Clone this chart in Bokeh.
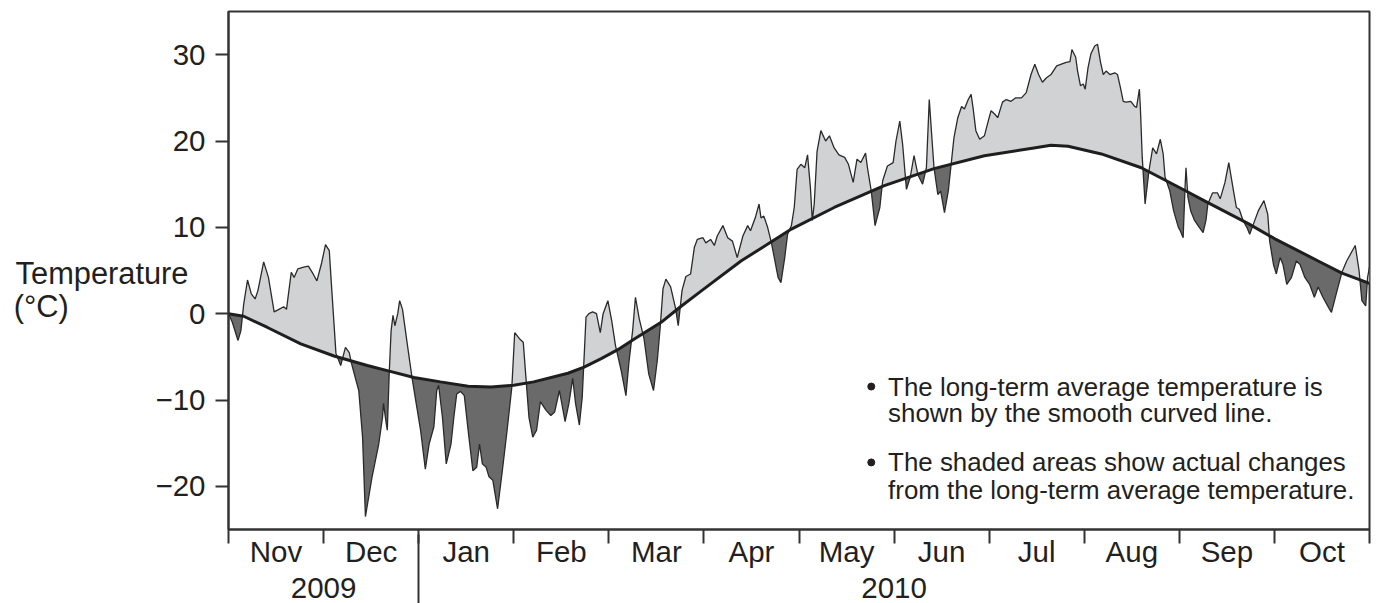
import numpy as np
from bokeh.plotting import figure
from bokeh.models import FixedTicker, LinearAxis, Range1d
from bokeh.core.properties import value
from bokeh.embed import file_html
from bokeh.resources import INLINE

# ---------------- data ----------------
month_names = ["Nov", "Dec", "Jan", "Feb", "Mar", "Apr", "May", "Jun", "Jul", "Aug", "Sep", "Oct"]
year_names = ["2009", "2010"]
y_ticks = [-20, -10, 0, 10, 20, 30]
y_tick_labels = ["\u221220", "\u221210", "0", "10", "20", "30"]
y_title = ["Temperature", "(\u00b0C)"]

# position in months since 1 Nov 2009 (one unit = one month)
month_pos = [
    0.00, 0.04, 0.10, 0.13, 0.16, 0.20, 0.24, 0.28, 0.31, 0.37, 0.42, 0.48, 0.53, 0.58, 0.61, 0.66,
    0.69, 0.73, 0.79, 0.84, 0.89, 0.93, 0.98, 1.02, 1.06, 1.08, 1.13, 1.18, 1.23, 1.27, 1.29, 1.34,
    1.37, 1.41, 1.44, 1.51, 1.58, 1.62, 1.63, 1.66, 1.67, 1.69, 1.71, 1.73, 1.75, 1.78, 1.80, 1.83,
    1.88, 1.93, 1.98, 2.02, 2.07, 2.11, 2.16, 2.19, 2.21, 2.25, 2.29, 2.34, 2.37, 2.40, 2.44, 2.48,
    2.52, 2.57, 2.61, 2.64, 2.67, 2.71, 2.74, 2.78, 2.83, 2.88, 2.93, 2.98, 3.01, 3.06, 3.10, 3.13,
    3.16, 3.20, 3.24, 3.28, 3.34, 3.39, 3.43, 3.48, 3.54, 3.58, 3.62, 3.65, 3.69, 3.72, 3.76, 3.79,
    3.83, 3.87, 3.91, 3.94, 3.99, 4.03, 4.07, 4.13, 4.18, 4.21, 4.25, 4.28, 4.32, 4.37, 4.42, 4.47,
    4.51, 4.54, 4.57, 4.60, 4.65, 4.70, 4.73, 4.77, 4.81, 4.86, 4.90, 4.93, 4.99, 5.02, 5.07, 5.11,
    5.14, 5.20, 5.25, 5.30, 5.35, 5.41, 5.46, 5.49, 5.54, 5.58, 5.60, 5.63, 5.67, 5.71, 5.74, 5.78,
    5.81, 5.85, 5.88, 5.92, 5.95, 5.98, 6.02, 6.06, 6.09, 6.12, 6.14, 6.16, 6.19, 6.23, 6.28, 6.32,
    6.37, 6.42, 6.48, 6.52, 6.57, 6.61, 6.65, 6.70, 6.72, 6.76, 6.80, 6.85, 6.88, 6.93, 6.99, 7.02,
    7.06, 7.09, 7.13, 7.17, 7.21, 7.25, 7.30, 7.34, 7.37, 7.40, 7.42, 7.46, 7.49, 7.53, 7.57, 7.60,
    7.63, 7.67, 7.71, 7.74, 7.78, 7.81, 7.83, 7.86, 7.90, 7.95, 7.99, 8.02, 8.06, 8.09, 8.14, 8.18,
    8.23, 8.28, 8.34, 8.39, 8.44, 8.48, 8.52, 8.56, 8.60, 8.65, 8.71, 8.76, 8.81, 8.85, 8.87, 8.91,
    8.93, 8.96, 8.99, 9.01, 9.04, 9.07, 9.11, 9.14, 9.17, 9.20, 9.23, 9.27, 9.32, 9.35, 9.38, 9.41,
    9.44, 9.49, 9.53, 9.55, 9.58, 9.59, 9.61, 9.64, 9.68, 9.72, 9.76, 9.80, 9.83, 9.85, 9.90, 9.94,
    9.99, 10.01, 10.04, 10.06, 10.07, 10.09, 10.12, 10.16, 10.21, 10.25, 10.28, 10.30, 10.35, 10.40, 10.43, 10.48,
    10.52, 10.57, 10.60, 10.63, 10.67, 10.71, 10.74, 10.78, 10.83, 10.89, 10.93, 10.95, 10.99, 11.02, 11.06, 11.09,
    11.13, 11.18, 11.23, 11.27, 11.32, 11.37, 11.42, 11.46, 11.51, 11.57, 11.60, 11.65, 11.71, 11.76, 11.85, 11.89,
    11.92, 11.96, 11.98, 12.00,
]
# actual daily temperature (deg C)
actual_temp = [
    0.0, -1.0, -3.1, -2.0, 1.1, 3.9, 2.3, 1.7, 2.7, 6.0, 4.2, 0.2, 0.5, 0.8, 0.5, 4.8,
    4.2, 5.2, 5.4, 5.5, 4.6, 3.8, 5.9, 8.0, 7.3, 3.8, -4.6, -6.0, -3.9, -4.5, -5.6, -7.7,
    -8.9, -14.3, -23.5, -18.9, -15.1, -12.0, -10.4, -12.8, -13.5, -7.0, -2.0, -0.2, -1.4, 0.0, 1.5, 0.5,
    -3.5, -7.4, -10.8, -13.5, -18.0, -15.1, -13.1, -8.9, -8.3, -12.0, -17.4, -15.1, -12.0, -9.3, -9.0, -9.5,
    -13.5, -18.2, -17.8, -15.1, -17.4, -17.8, -18.9, -19.3, -22.6, -18.2, -13.5, -8.5, -2.2, -2.9, -3.3, -7.7,
    -12.0, -14.3, -13.5, -10.2, -11.2, -11.8, -11.4, -8.9, -12.5, -10.4, -7.5, -10.4, -12.9, -9.7, -0.4, 0.0,
    0.2, 0.0, -2.2, 0.0, 1.5, -0.8, -3.7, -6.6, -9.5, -5.8, -2.0, 1.9, -0.6, -2.9, -7.0, -8.9,
    -5.4, -1.6, 2.9, 4.0, 3.1, 0.7, -1.4, 2.7, 4.3, 4.6, 7.7, 8.6, 8.8, 8.2, 8.6, 7.9,
    9.0, 10.2, 8.8, 8.4, 6.5, 9.0, 10.2, 9.6, 11.1, 12.7, 11.1, 11.3, 10.0, 8.2, 6.5, 4.2,
    3.6, 6.5, 9.2, 10.2, 12.3, 16.7, 17.3, 16.9, 18.4, 14.6, 10.8, 12.7, 18.8, 21.2, 20.0, 20.6,
    19.2, 18.4, 18.1, 17.3, 15.2, 17.9, 17.5, 18.6, 16.9, 14.2, 10.2, 12.3, 15.4, 17.1, 17.5, 20.0,
    22.3, 19.6, 14.4, 15.8, 18.3, 16.1, 15.0, 16.9, 24.8, 20.0, 16.9, 13.8, 14.2, 11.7, 14.2, 17.3,
    20.4, 22.7, 24.0, 23.7, 24.8, 25.4, 23.9, 21.2, 20.2, 20.6, 22.3, 23.5, 23.1, 22.7, 24.5, 24.8,
    24.6, 25.0, 25.0, 25.6, 27.7, 28.9, 27.7, 26.8, 27.3, 27.7, 28.7, 28.9, 29.1, 29.2, 30.6, 29.7,
    28.1, 26.4, 26.6, 26.0, 28.5, 30.1, 31.0, 31.2, 29.2, 27.7, 28.1, 27.7, 27.9, 27.7, 26.2, 24.6,
    24.5, 24.6, 24.0, 23.9, 26.0, 23.9, 18.1, 12.7, 16.5, 19.2, 18.5, 20.2, 18.5, 15.8, 14.2, 11.9,
    10.0, 9.6, 8.8, 14.6, 16.9, 13.5, 11.9, 10.8, 10.0, 9.4, 10.8, 12.7, 14.0, 14.0, 13.3, 15.2,
    17.5, 14.2, 12.3, 12.1, 10.8, 10.0, 9.2, 10.4, 11.9, 13.1, 11.5, 8.4, 5.7, 4.6, 6.5, 5.7,
    3.4, 4.2, 6.1, 5.7, 4.2, 3.4, 1.9, 3.1, 1.9, 0.7, 0.15, 2.3, 4.8, 6.1, 7.9, 5.0,
    1.5, 0.9, 4.2, 5.4,
]
# long-term average temperature (smooth curve)
avg_pos = [0.00, 0.16, 0.41, 0.76, 1.11, 1.46, 1.67, 1.95, 2.23, 2.52, 2.76, 3.00, 3.21, 3.57,
           3.74, 3.92, 4.09, 4.26, 4.55, 4.73, 4.98, 5.39, 5.92, 6.37, 6.89, 7.42, 7.95, 8.47,
           8.65, 8.83, 9.18, 9.60, 10.02, 10.31, 10.73, 11.00, 11.46, 11.71, 12.00]
avg_temp = [0.0, -0.3, -1.6, -3.5, -4.9, -6.0, -6.6, -7.4, -7.9, -8.4, -8.5, -8.3, -7.9, -6.9,
            -6.2, -5.2, -4.2, -3.0, -1.0, 0.6, 2.7, 6.1, 9.8, 12.3, 14.8, 16.8, 18.3, 19.2,
            19.5, 19.4, 18.5, 16.9, 14.5, 12.8, 10.4, 8.7, 6.1, 4.7, 3.5]

notes = [
    "The long-term average temperature is",
    "shown by the smooth curved line.",
    "The shaded areas show actual changes",
    "from the long-term average temperature.",
]

# ---------------- styling ----------------
FONT = "Liberation Sans"
INK = "#231f20"
AXIS = "#333333"
LIGHT = "#d1d2d4"
DARK = "#6a6a6a"
FS = "29.5px"

p = figure(width=1372, height=603, x_range=Range1d(0, 12), y_range=Range1d(-25, 35),
           output_backend="svg", toolbar_location=None,
           min_border_left=228, min_border_right=3, min_border_top=11, min_border_bottom=74)
p.background_fill_color = "white"
p.border_fill_color = "white"
p.outline_line_color = AXIS
p.outline_line_width = 2
p.xgrid.visible = False
p.ygrid.visible = False

# shading between actual and average
x = np.array(month_pos, dtype=float)
a = np.array(actual_temp, dtype=float)
avg_at = np.interp(x, avg_pos, avg_temp)
d = a - avg_at
xs, ya, yb = [x[0]], [a[0]], [avg_at[0]]
for i in range(1, len(x)):
    if d[i - 1] * d[i] < 0:
        t = d[i - 1] / (d[i - 1] - d[i])
        xc = x[i - 1] + t * (x[i] - x[i - 1])
        yc = a[i - 1] + t * (a[i] - a[i - 1])
        xs.append(xc); ya.append(yc); yb.append(yc)
    xs.append(x[i]); ya.append(a[i]); yb.append(avg_at[i])
xs = np.array(xs); ya = np.array(ya); yb = np.array(yb)

p.varea(x=xs, y1=yb, y2=np.maximum(ya, yb), fill_color=LIGHT)
p.varea(x=xs, y1=yb, y2=np.minimum(ya, yb), fill_color=DARK)
p.line(x, a, line_color="#2a2a2a", line_width=1.3)
p.line(avg_pos, avg_temp, line_color="#1e1e1e", line_width=3)

# y axis
p.yaxis.ticker = FixedTicker(ticks=y_ticks)
p.yaxis.major_label_overrides = {t: s for t, s in zip(y_ticks, y_tick_labels)}
p.yaxis.major_tick_out = 13
p.yaxis.major_tick_in = 0
p.yaxis.minor_tick_line_color = None
p.yaxis.axis_line_color = AXIS
p.yaxis.axis_line_width = 2
p.yaxis.major_tick_line_color = AXIS
p.yaxis.major_tick_line_width = 2
p.yaxis.major_label_standoff = 10
p.yaxis.major_label_text_font = FONT
p.yaxis.major_label_text_font_size = FS
p.yaxis.major_label_text_color = INK

# horizontal y title, drawn as the labels of an extra (tick-less) left axis
title_at = [4.63, 0.81]
title_txt = [y_title[0], y_title[1] + "\u00a0" * 14]
tax = LinearAxis(ticker=FixedTicker(ticks=title_at),
                 major_label_overrides={v: s for v, s in zip(title_at, title_txt)},
                 axis_line_color=None, major_tick_line_color=None, minor_tick_line_color=None,
                 major_tick_in=0, major_tick_out=0, minor_tick_in=0, minor_tick_out=0,
                 major_label_standoff=-36,
                 major_label_text_font=FONT, major_label_text_font_size="30.8px",
                 major_label_text_color=INK)
p.add_layout(tax, "left")

# month axis
centers = [i + 0.5 for i in range(len(month_names))]
bounds = list(range(len(month_names) + 1))
xa = p.xaxis[0]
xa.ticker = FixedTicker(ticks=centers, minor_ticks=bounds)
xa.major_label_overrides = {c: m for c, m in zip(centers, month_names)}
xa.major_tick_out = 0
xa.major_tick_in = 0
xa.major_tick_line_color = None
xa.minor_tick_out = 14
xa.minor_tick_in = 0
xa.minor_tick_line_color = AXIS
xa.minor_tick_line_width = 2
xa.axis_line_color = AXIS
xa.axis_line_width = 2
xa.major_label_standoff = -9
xa.major_label_text_font = FONT
xa.major_label_text_font_size = FS
xa.major_label_text_color = INK

# year axis (its minor tick at the Dec/Jan boundary is the long divider)
year_centers = [1, 7]
yax = LinearAxis(ticker=FixedTicker(ticks=year_centers, minor_ticks=[2]),
                 major_label_overrides={c: y for c, y in zip(year_centers, year_names)},
                 axis_line_color=None, major_tick_line_color=None,
                 major_tick_in=0, major_tick_out=0,
                 minor_tick_in=36, minor_tick_out=39,
                 minor_tick_line_color=AXIS, minor_tick_line_width=2,
                 major_label_standoff=-32,
                 major_label_text_font=FONT, major_label_text_font_size=FS,
                 major_label_text_color=INK)
p.add_layout(yax, "below")

# notes inside the plot
note_y = [-8.44, -11.56, -17.23, -20.46]
p.text(x=[6.937] * 4, y=note_y, text=notes, text_font=value(FONT), text_font_size="25.9px",
       text_color=INK, text_baseline="middle", text_align="left")
p.scatter(x=[6.76, 6.76], y=[note_y[0], note_y[2]], size=7, color=INK)

open("out.html", "w").write(file_html(p, INLINE))
